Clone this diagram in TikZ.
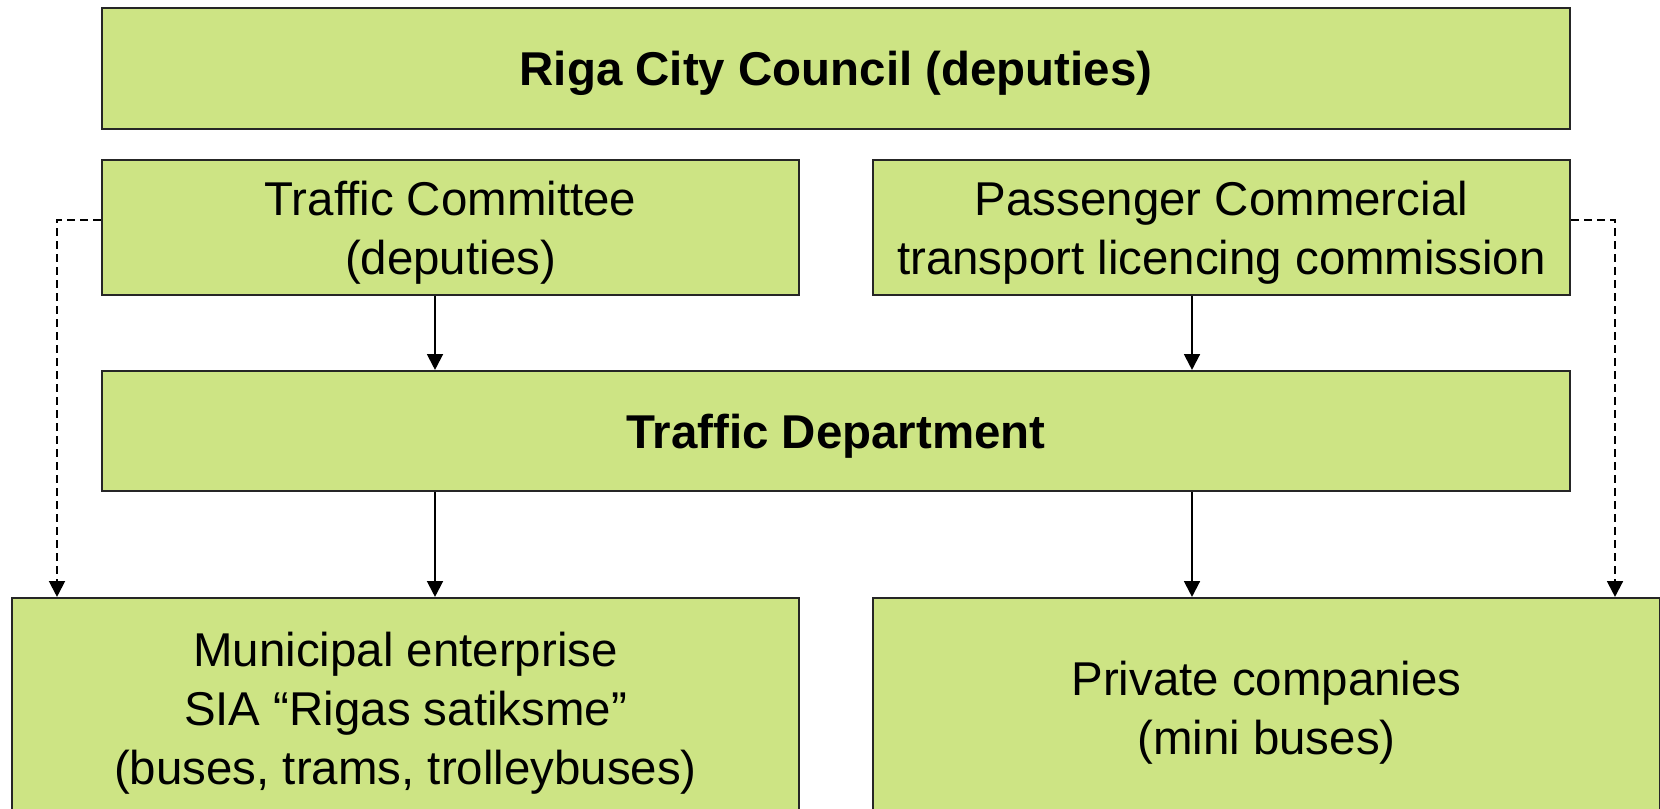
\documentclass[tikz,border=0pt]{standalone}
\usepackage{fontspec}
\setmainfont{Liberation Sans}
\usetikzlibrary{arrows.meta}
\usetikzlibrary{calc}
\definecolor{boxgreen}{RGB}{205,228,132}

\begin{document}
\begin{tikzpicture}[x=1cm, y=-1cm,
	box/.style={draw=black!85, line width=0.6pt, fill=boxgreen, align=center, inner sep=0pt, text depth=0pt, font=\fontsize{13.5}{16.8}\selectfont},
	link/.style={line width=0.6pt, -{Triangle[width=4.5pt,length=4.5pt]}},
	dlink/.style={link, dash pattern=on 2.3pt off 1.4pt}]
	\useasboundingbox (0, 0) rectangle (16.6, 8.08);
	\clip (0, 0) rectangle (16.6, 8.08);

	\node[box, minimum width=14.68cm, minimum height=1.21cm] (council) at (8.36, .685) {\textbf{Riga City Council (deputies)}};
	\node[box, minimum width=6.97cm, minimum height=1.35cm] (tc) at (4.505, 2.275) {Traffic Committee\\(deputies)};
	\node[box, minimum width=6.97cm, minimum height=1.35cm] (pcl) at (12.215, 2.275) {Passenger Commercial\\transport licencing commission};
	\node[box, minimum width=14.68cm, minimum height=1.2cm] (dept) at (8.36, 4.31) {\textbf{Traffic Department}};
	\node[box, minimum width=7.87cm, minimum height=2.2cm] (muni) at (4.055, 7.08) {Municipal enterprise\\SIA “Rigas satiksme”\\(buses, trams, trolleybuses)};
	\node[box, minimum width=7.87cm, minimum height=2.2cm] (priv) at (12.665, 7.08) {Private companies\\(mini buses)};

	\coordinate (aL) at (4.35, 0);
	\coordinate (aR) at (11.92, 0);
	\coordinate (dL) at (.57, 2.2);
	\coordinate (dR) at (16.15, 2.2);

	\draw[link] (aL |- tc.south) -- (aL |- dept.north);
	\draw[link] (aR |- pcl.south) -- (aR |- dept.north);
	\draw[link] (aL |- dept.south) -- (aL |- muni.north);
	\draw[link] (aR |- dept.south) -- (aR |- priv.north);
	\draw[dlink] (tc.west |- dL) -- (dL) -- (dL |- muni.north);
	\draw[dlink] (pcl.east |- dR) -- (dR) -- (dR |- priv.north);
\end{tikzpicture}
\end{document}
